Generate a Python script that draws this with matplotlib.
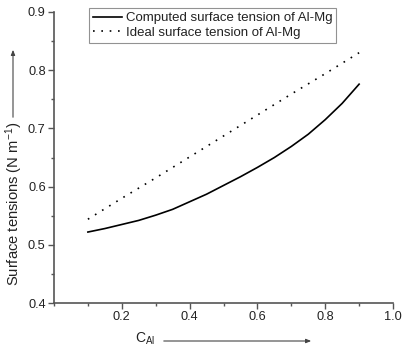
import matplotlib
matplotlib.use("Agg")
import matplotlib.pyplot as plt
from matplotlib.patches import FancyArrowPatch
from matplotlib.ticker import MultipleLocator

# Mole fraction of Al
c_al = [0.10, 0.15, 0.20, 0.25, 0.30, 0.35, 0.40, 0.45, 0.50,
        0.55, 0.60, 0.65, 0.70, 0.75, 0.80, 0.85, 0.90]
# Computed surface tension (N/m)
computed = [0.522, 0.528, 0.535, 0.542, 0.551, 0.561, 0.574, 0.587, 0.602,
            0.617, 0.633, 0.650, 0.669, 0.690, 0.715, 0.743, 0.776]

c_ideal = [0.1, 0.2, 0.3, 0.4, 0.5, 0.6, 0.7, 0.8, 0.9]
ideal = [0.544, 0.580, 0.615, 0.651, 0.687, 0.723, 0.759, 0.794, 0.830]

plt.rcParams["font.family"] = ["Liberation Sans", "DejaVu Sans"]
plt.rcParams["mathtext.default"] = "regular"
axis_col = "#555555"
text_col = "#222222"

fig = plt.figure(figsize=(4.06, 3.52), dpi=100)
ax = fig.add_axes([0.133, 0.139, 0.835, 0.827])

ax.plot(c_al, computed, color="black", lw=1.2,
        label="Computed surface tension of Al-Mg")
ax.plot(c_ideal, ideal, color="black", lw=1.2, linestyle=(0, (1, 4)),
        label="Ideal surface tension of Al-Mg")

ax.set_xlim(0, 1.0)
ax.set_ylim(0.4, 0.9)
ax.xaxis.set_major_locator(MultipleLocator(0.2))
ax.xaxis.set_minor_locator(MultipleLocator(0.1))
ax.yaxis.set_major_locator(MultipleLocator(0.1))
ax.yaxis.set_minor_locator(MultipleLocator(0.05))
ax.set_xticks([0.2, 0.4, 0.6, 0.8, 1.0])
ax.set_xticklabels(["0.2", "0.4", "0.6", "0.8", "1.0"])

for side in ["top", "right"]:
    ax.spines[side].set_visible(False)
for side in ["left", "bottom"]:
    ax.spines[side].set_color(axis_col)
    ax.spines[side].set_linewidth(1.2)

ax.tick_params(which="major", direction="out", length=4, width=1.0,
               color=axis_col, labelcolor=text_col, labelsize=9.2, pad=2)
ax.tick_params(which="minor", direction="out", length=2.5, width=1.0,
               color=axis_col)

leg = ax.legend(loc="upper left", bbox_to_anchor=(0.095, 1.022), fontsize=9.5,
                frameon=True, fancybox=False, handlelength=2.2,
                handletextpad=0.3, borderpad=0.3, labelspacing=0.15,
                borderaxespad=0.2)
leg.get_frame().set_edgecolor("#777777")
leg.get_frame().set_linewidth(0.8)
for t in leg.get_texts():
    t.set_color(text_col)

# axis labels with direction arrows
fig.text(14 / 406, 1 - 204 / 352, "Surface tensions (N m$^{-1}$)",
         rotation=90, ha="center", va="center", color=text_col, fontsize=10.6)
fig.text(145 / 406, 1 - 339 / 352, "C$_{Al}$",
         ha="center", va="center", color=text_col, fontsize=10)

fig.patches.append(FancyArrowPatch(
    (13 / 406, 1 - 120 / 352), (13 / 406, 1 - 47 / 352),
    transform=fig.transFigure, arrowstyle="-|>,head_length=3,head_width=1.2",
    color="#444444", lw=0.8))
fig.patches.append(FancyArrowPatch(
    (161 / 406, 1 - 341 / 352), (314 / 406, 1 - 341 / 352),
    transform=fig.transFigure, arrowstyle="-|>,head_length=3,head_width=1.2",
    color="#444444", lw=0.8))

fig.savefig("out.png", dpi=100)
